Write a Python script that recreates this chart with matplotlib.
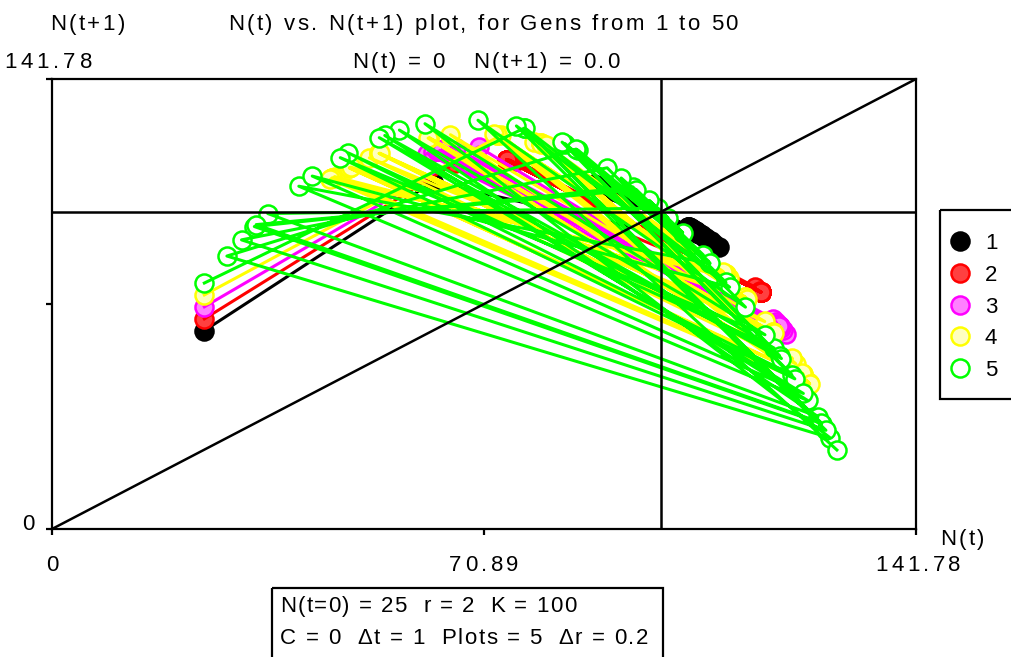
import matplotlib
matplotlib.use("Agg")
import matplotlib.pyplot as plt
from matplotlib.patches import Rectangle
from matplotlib.font_manager import FontProperties, findfont
from matplotlib.ft2font import FT2Font

W, H = 1012, 657
FS = 16
FAM = 'Liberation Sans'
plt.rcParams['font.family'] = [FAM, 'DejaVu Sans']

# N(t) for gens 0..50, one list per plot (r = 2, 2.2, 2.4, 2.6, 2.8)
n_plot1 = [25.0, 62.5, 109.38, 88.87, 108.65, 89.85, 108.09, 90.6, 107.63, 91.2,
           107.25, 91.7, 106.92, 92.12, 106.64, 92.48, 106.39, 92.79, 106.17, 93.07,
           105.97, 93.32, 105.79, 93.54, 105.62, 93.74, 105.47, 93.93, 105.34, 94.1,
           105.21, 94.25, 105.09, 94.39, 104.98, 94.53, 104.87, 94.65, 104.78, 94.8,
           104.7, 94.9, 104.6, 95.0, 104.5, 95.1, 104.4, 95.2, 104.4, 95.3, 104.3]
n_plot2 = [25.0, 66.2, 115.4, 76.2, 116.1, 75.0, 116.3, 74.7, 116.3, 74.6,
           116.3, 74.6, 116.3, 74.6, 116.3, 74.6, 116.3, 74.6, 116.3, 74.6,
           116.3, 74.6, 116.3, 74.6, 116.3, 74.6, 116.3, 74.6, 116.3, 74.6,
           116.3, 74.6, 116.3, 74.6, 116.3, 74.6, 116.3, 74.6, 116.3, 74.6,
           116.3, 74.6, 116.3, 74.6, 116.3, 74.6, 116.3, 74.6, 116.3, 74.6, 116.3]
n_plot3 = [25.0, 70.0, 120.4, 61.5, 118.3, 66.3, 119.9, 62.6, 118.8, 65.3,
           119.7, 63.2, 119.0, 64.7, 119.5, 63.5, 119.1, 64.4, 119.4, 63.7,
           119.2, 64.3, 119.4, 63.9, 119.2, 64.2, 119.3, 63.9, 119.3, 64.1,
           119.3, 64.0, 119.3, 64.1, 119.3, 64.0, 119.3, 64.1, 119.3, 64.0,
           119.3, 64.0, 119.3, 64.0, 119.3, 64.0, 119.3, 64.0, 119.3, 64.0, 119.3]
n_plot4 = [25.0, 73.75, 124.08, 46.38, 111.04, 79.16, 122.05, 52.07, 116.96, 65.38,
           124.23, 45.97, 110.54, 80.24, 121.46, 53.68, 118.33, 61.94, 123.23, 48.79,
           113.75, 73.07, 124.23, 45.96, 110.54, 80.25, 121.46, 53.69, 118.34, 61.92,
           123.23, 48.81, 113.77, 73.03, 124.24, 45.94, 110.51, 80.31, 121.42, 53.79,
           118.42, 61.71, 123.14, 49.04, 114.02, 72.46, 124.34, 45.64, 110.15, 81.09, 120.96]
n_plot5 = [25.0, 77.5, 126.3, 33.2, 95.3, 107.8, 84.2, 121.4, 48.6, 118.5,
           57.0, 125.7, 35.4, 99.4, 101.1, 98.0, 103.5, 93.4, 110.6, 77.7,
           126.2, 33.5, 95.9, 106.9, 86.3, 119.4, 54.6, 124.0, 40.5, 108.0,
           83.7, 121.9, 47.3, 117.0, 61.2, 127.7, 28.7, 86.0, 119.7, 53.7,
           123.3, 42.7, 111.2, 76.2, 127.0, 31.1, 91.1, 113.8, 69.9, 128.8, 24.9]

series = [n_plot1, n_plot2, n_plot3, n_plot4, n_plot5]
labels = ['1', '2', '3', '4', '5']
edge_cols = ['#000000', '#ff0000', '#ff00ff', '#ffff00', '#00ff00']
face_cols = ['#000000', '#ff4040', '#ff80ff', '#ffffc0', '#ffffff']
axis_max = 141.78
axis_ticks = [0, 70.89, 141.78]
K = 100

fig = plt.figure(figsize=(W / 100, H / 100), dpi=100)
ax = fig.add_axes([52 / W, 1 - 529 / H, 864 / W, 450 / H])
ax.set_xlim(0, axis_max)
ax.set_ylim(0, axis_max)

# each plot: points (N(t), N(t+1)) joined in time order
for n, ec, fc in zip(series, edge_cols, face_cols):
    x, y = n[:-1], n[1:]
    ax.plot(x, y, 'o', ms=13, mfc=fc, mec=ec, mew=1.8, ls='none', clip_on=False)
    ax.plot(x, y, '-', color=ec, lw=2.2, clip_on=False)

# K cross hairs and the N(t+1) = N(t) diagonal
ax.axhline(K, color='black', lw=1.8, zorder=20)
ax.axvline(K, color='black', lw=1.8, zorder=20)
ax.plot([0, axis_max], [0, axis_max], color='black', lw=1.8, zorder=20)

for s in ax.spines.values():
    s.set_linewidth(1.6)
ax.set_xticks(axis_ticks)
ax.set_yticks(axis_ticks)
ax.tick_params(direction='out', length=4.5, width=1.6, labelbottom=False, labelleft=False)

# overlay in pixel coords for the loose text, legend and parameter box
ov = fig.add_axes([0, 0, 1, 1])
ov.set_xlim(0, W)
ov.set_ylim(H, 0)
ov.axis('off')

font = FT2Font(findfont(FontProperties(family=FAM)))
font.set_size(FS, 100)


def adv(c):
    return font.load_char(ord(c)).linearHoriAdvance / 65536.0


def spaced(x, y, s, ha='left', track=2.5):
    # text with a bit of letter spacing, like the original
    ws = [adv(c) for c in s]
    total = sum(ws) + track * (len(s) - 1)
    if ha == 'center':
        x -= total / 2
    elif ha == 'right':
        x -= total
    for c, w in zip(s, ws):
        if c != ' ':
            ov.text(x, y, c, fontsize=FS, ha='left', va='baseline')
        x += w + track


spaced(50, 30, 'N(t+1)')
spaced(228, 30, 'N(t) vs. N(t+1) plot, for Gens from 1 to 50')
spaced(4, 68, '%.2f' % axis_max, track=4)
spaced(352, 68, 'N(t) = 0   N(t+1) = 0.0')
spaced(28, 530, '0', ha='center')
spaced(52, 571, '0', ha='center')
spaced(484, 571, '%.2f' % axis_ticks[1], ha='center', track=3.5)
spaced(918, 571, '%.2f' % axis_ticks[2], ha='center', track=3.5)
spaced(940, 545, 'N(t)')

ov.add_patch(Rectangle((940, 210), 100, 189, fill=False, lw=1.6, ec='black', clip_on=False))
for i, (lab, ec, fc) in enumerate(zip(labels, edge_cols, face_cols)):
    yy = 241 + i * 31.8
    ov.plot([960], [yy], 'o', ms=13, mfc=fc, mec=ec, mew=1.8)
    spaced(985, yy + 8, lab)

ov.add_patch(Rectangle((272, 588), 391, 120, fill=False, lw=1.6, ec='black', clip_on=False))
spaced(280, 612, 'N(t=0) = 25  r = 2  K = 100', track=1.4)
spaced(280, 644, 'C = 0  \u0394t = 1  Plots = 5  \u0394r = 0.2', track=1.6)

fig.savefig('out.png', dpi=100)
